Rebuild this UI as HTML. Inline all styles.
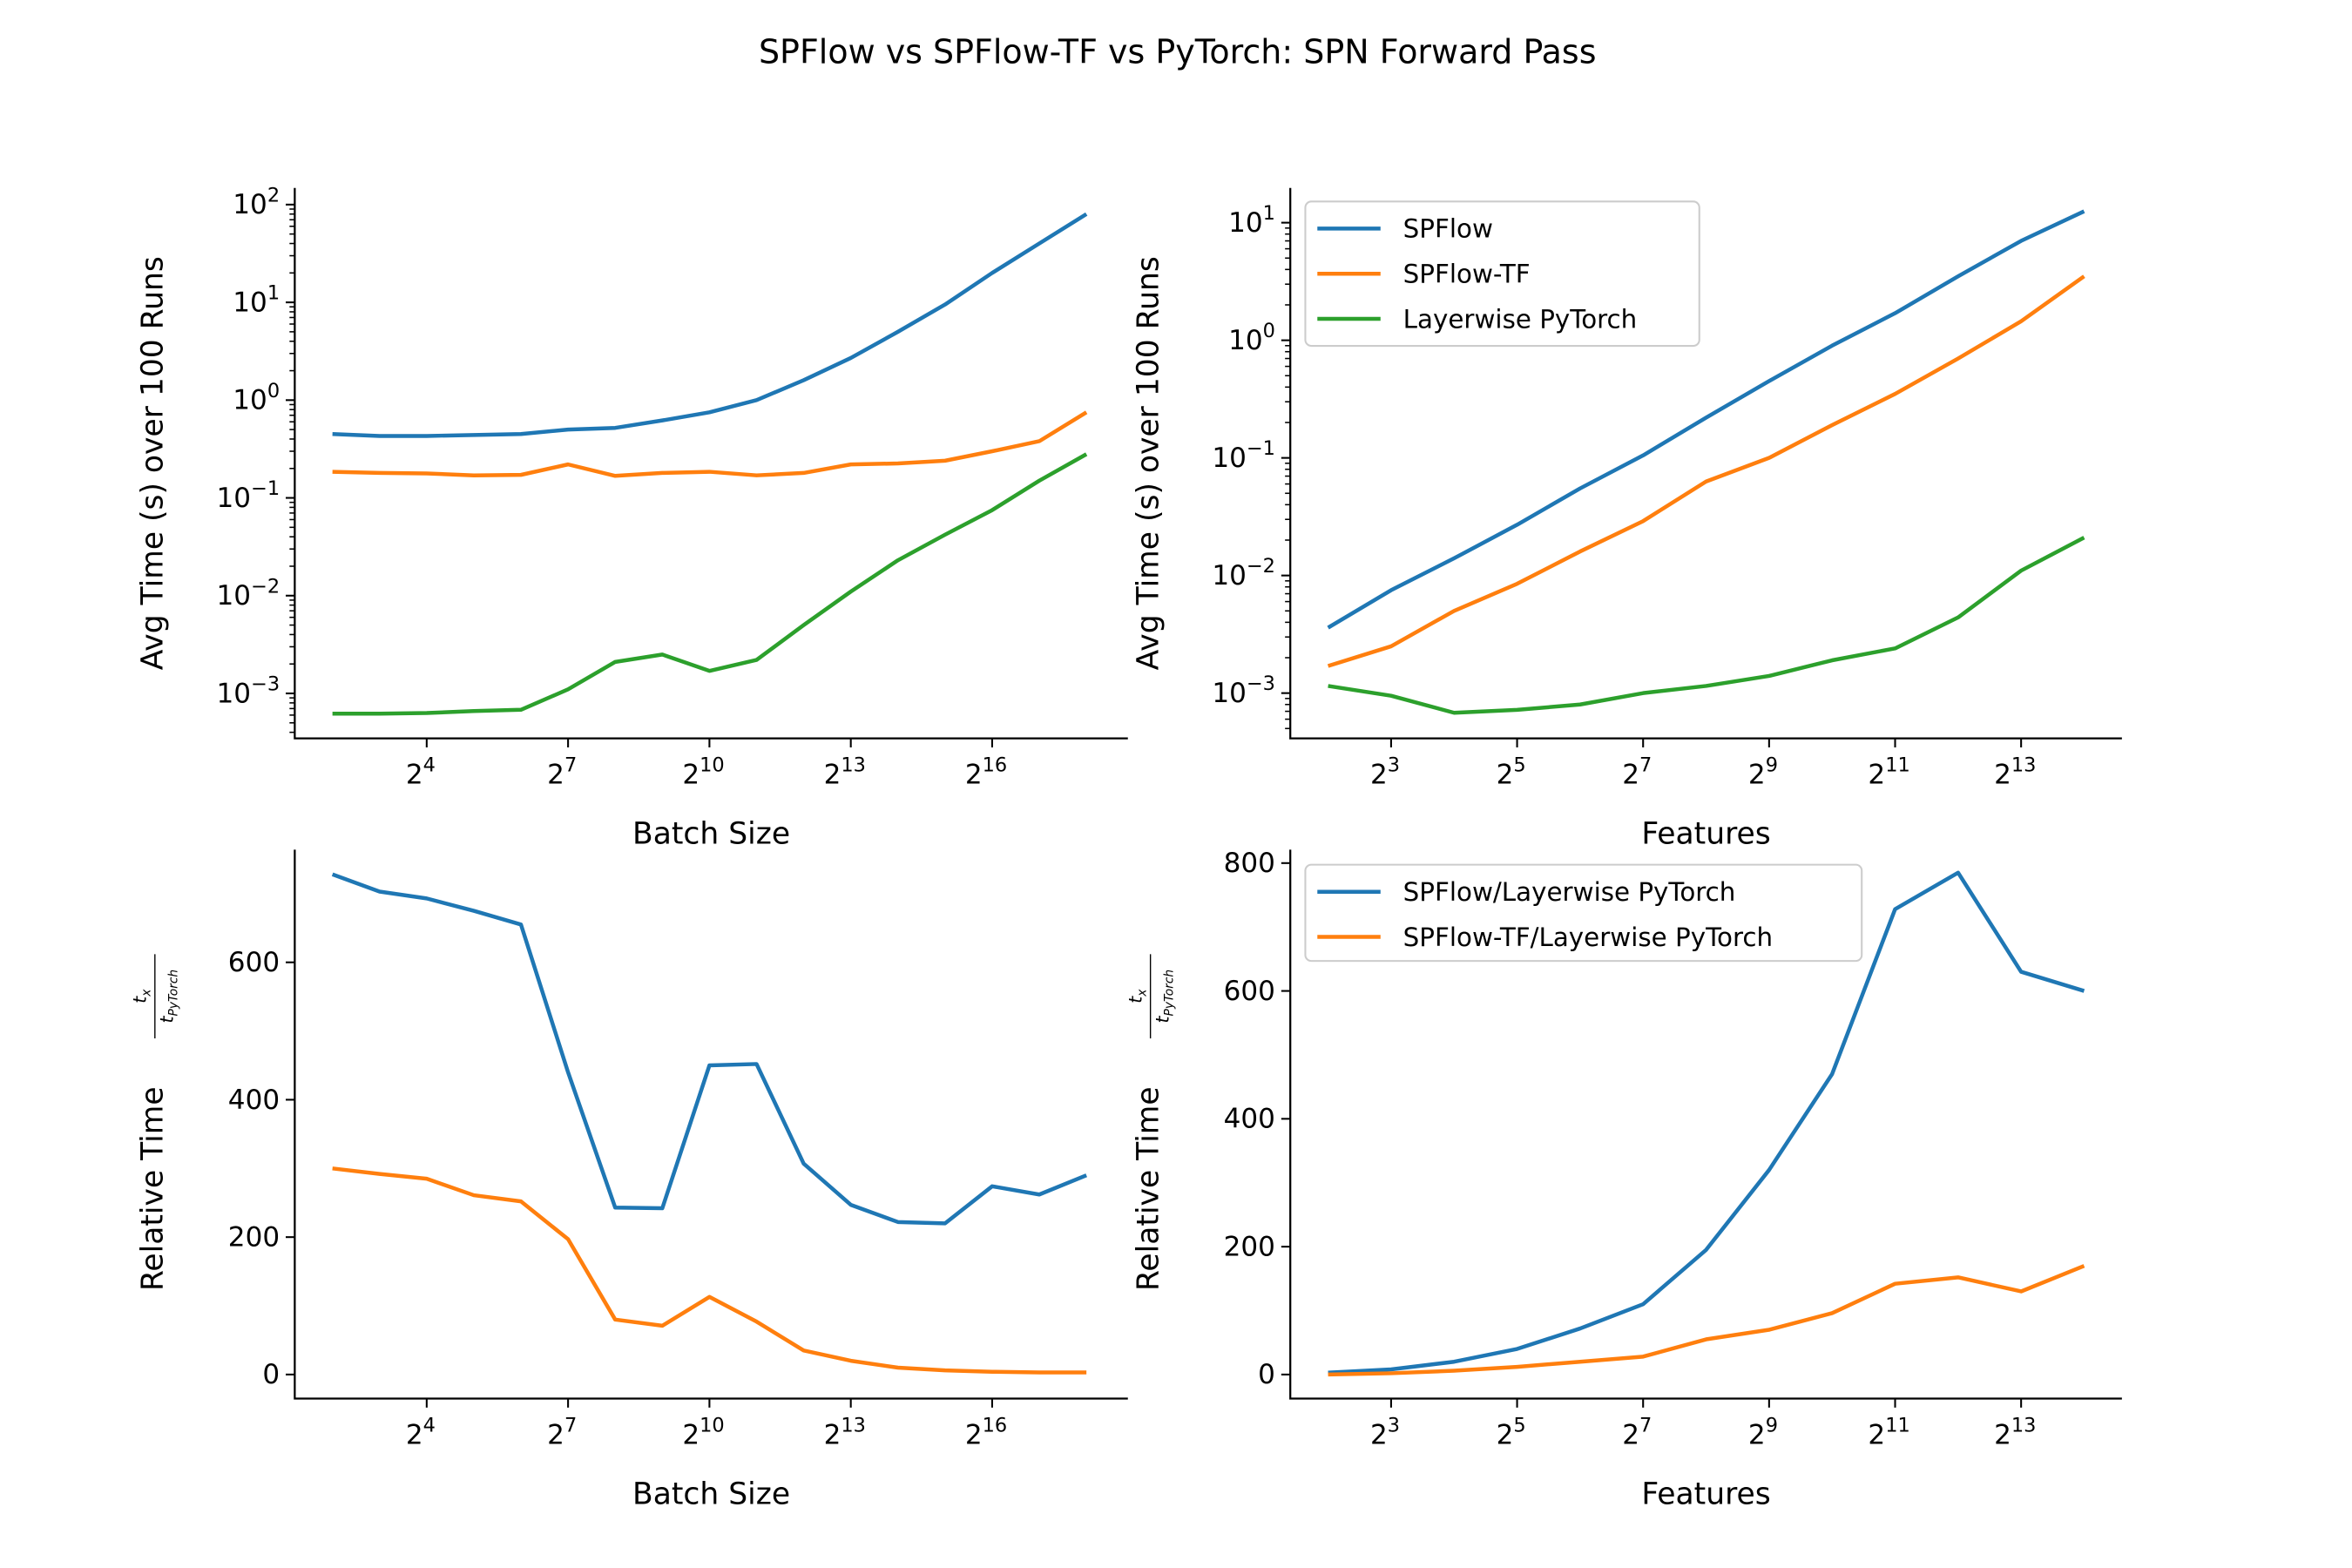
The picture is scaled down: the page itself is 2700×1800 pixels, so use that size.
<!DOCTYPE html>
<html><head><meta charset="utf-8"><style>
html,body{margin:0;padding:0;background:#fff}
svg{display:block;font-family:"DejaVu Sans","Liberation Sans",sans-serif}
</style></head><body>
<svg id="fig" width="2700" height="1800" viewBox="0 0 1564 1042.67" xmlns="http://www.w3.org/2000/svg">
<rect width="1564" height="1043" fill="#fff"/>
<text x="783" y="42" font-size="22" text-anchor="middle">SPFlow vs SPFlow-TF vs PyTorch: SPN Forward Pass</text>
</svg>
<script>
// ---- data ----
const batchExp = [2,3,4,5,6,7,8,9,10,11,12,13,14,15,16,17,18];
const batchSPFlow = [0.45,0.43,0.43,0.44,0.45,0.5,0.52,0.62,0.75,1.0,1.6,2.7,5,9.5,20,40,80];
const batchTF = [0.185,0.18,0.178,0.17,0.172,0.22,0.168,0.18,0.185,0.17,0.18,0.22,0.225,0.24,0.3,0.38,0.75];
const batchTorch = [0.00062,0.00062,0.00063,0.00066,0.00068,0.0011,0.0021,0.0025,0.0017,0.0022,0.005,0.011,0.023,0.042,0.075,0.15,0.28];
const featExp = [2,3,4,5,6,7,8,9,10,11,12,13,14];
const featSPFlow = [0.0036,0.0075,0.014,0.027,0.055,0.105,0.22,0.45,0.9,1.7,3.5,7,12.5];
const featTF = [0.0017,0.0025,0.005,0.0085,0.016,0.029,0.063,0.1,0.19,0.35,0.7,1.45,3.5];
const featTorch = [0.00115,0.00095,0.00068,0.00072,0.0008,0.001,0.00115,0.0014,0.0019,0.0024,0.0044,0.011,0.021];
const batchRelSPFlow = [728,703,693,675,655,440,243,242,450,452,307,247,222,220,274,262,290];
const batchRelTF = [300,292,285,261,252,197,80,71,113,77,35,20,10,6,4,3,3];
const featRelSPFlow = [3,8,20,40,72,110,195,320,470,728,785,630,600];
const featRelTF = [0,2,6,12,20,28,55,70,96,142,152,130,170];
const batchTicks = [4,7,10,13,16];
const featTicks = [3,5,7,9,11,13];
const relTicksL = [0,200,400,600];
const relTicksR = [0,200,400,600,800];
const logTicksL = [-3,-2,-1,0,1,2];
const logTicksR = [-3,-2,-1,0,1];

const C = {blue:'#1f77b4', orange:'#ff7f0e', green:'#2ca02c'};
const svg = document.getElementById('fig');
const NS = 'http://www.w3.org/2000/svg';
function mk(tag, attrs, parent){const e=document.createElementNS(NS,tag);for(const k in attrs)e.setAttribute(k,attrs[k]);(parent||svg).appendChild(e);return e;}

function panel(name, box, xr, yr, isLog, xticks, yticks, xlabel, series, legend, relLabel){
  const g = mk('g',{});
  
  
  const [x0,x1,y0,y1] = box;
  const sx = v => x0 + (v - xr[0])/(xr[1]-xr[0])*(x1-x0);
  const sy = v => { const t = isLog ? Math.log10(v) : v; return y1 - (t - yr[0])/(yr[1]-yr[0])*(y1-y0); };
  series.forEach(s=>{
    const p = mk('polyline',{points:s.x.map((xv,i)=>sx(xv).toFixed(2)+','+sy(s.y[i]).toFixed(2)).join(' '),fill:'none',stroke:s.c,'stroke-width':2.6,'stroke-linejoin':'round'},g);
    
    
  });
  const ax = mk('path',{d:`M${x0},${y0} L${x0},${y1} L${x1},${y1}`,fill:'none',stroke:'#000','stroke-width':1.3},g);
  
  
  xticks.forEach(t=>{
    const x=sx(t);
    mk('line',{x1:x,x2:x,y1:y1,y2:y1+6,stroke:'#000','stroke-width':1.2},g);
    const tx = mk('text',{x:x-4,y:y1+30,'font-size':18,'text-anchor':'middle'},g);
    
    
    tx.innerHTML = '2<tspan dy="-8" font-size="13">'+t+'</tspan>';
  });
  yticks.forEach(t=>{
    const y = isLog ? y1 - (t - yr[0])/(yr[1]-yr[0])*(y1-y0) : sy(t);
    mk('line',{x1:x0-6,x2:x0,y1:y,y2:y,stroke:'#000','stroke-width':1.2},g);
    const tx = mk('text',{x:x0-10,y:y+6,'font-size':18,'text-anchor':'end'},g);
    
    
    if(isLog){ tx.innerHTML = '10<tspan dy="-8" font-size="13">'+(t<0?'\u2212'+(-t):t)+'</tspan>'; }
    else tx.textContent = t;
  });
  if(isLog){
    for(let d=Math.floor(yr[0]); d<=Math.ceil(yr[1]); d++){
      for(let m=2;m<=9;m++){
        const lv = d + Math.log10(m);
        if(lv<yr[0]||lv>yr[1]) continue;
        const y = y1 - (lv - yr[0])/(yr[1]-yr[0])*(y1-y0);
        mk('line',{x1:x0-3.5,x2:x0,y1:y,y2:y,stroke:'#000','stroke-width':0.9},g);
      }
    }
  }
  const xl = mk('text',{x:(x0+x1)/2,y:y1+70,'font-size':20,'text-anchor':'middle'},g);
  
  
  xl.textContent = xlabel;
  const cy = (y0+y1)/2, lx = x0 - 88;
  if(relLabel){
    const ly = cy + 43;
    const yl = mk('text',{x:lx,y:ly,'font-size':20,'text-anchor':'middle',transform:`rotate(-90 ${lx} ${ly})`},g);
    
    
    yl.textContent = 'Relative Time';
    const fx = lx + 2, fy = cy - 85;
    const fg = mk('g',{transform:`rotate(-90 ${fx} ${fy})`},g);
    
    
    mk('text',{x:fx,y:fy-13,'font-size':12,'font-style':'italic','text-anchor':'middle'},fg).innerHTML='t<tspan dy="3" font-size="8">x</tspan>';
    mk('line',{x1:fx-28,x2:fx+28,y1:fy-7,y2:fy-7,stroke:'#000','stroke-width':0.8},fg);
    mk('text',{x:fx,y:fy+5,'font-size':12,'font-style':'italic','text-anchor':'middle'},fg).innerHTML='t<tspan dy="3" font-size="8">PyTorch</tspan>';
  } else {
    const yl = mk('text',{x:lx,y:cy,'font-size':20,'text-anchor':'middle',transform:`rotate(-90 ${lx} ${cy})`},g);
    
    
    yl.textContent = 'Avg Time (s) over 100 Runs';
  }
  if(legend){
    const lg = mk('g',{},g);
    
    
    mk('rect',{x:legend.x,y:legend.y,width:legend.w,height:legend.h,rx:4,fill:'#fff','fill-opacity':0.8,stroke:'#ccc','stroke-width':1.2},lg);
    series.forEach((s,i)=>{
      const y = legend.y + 18 + i*30;
      const e = mk('g',{},lg);
      
      
      mk('line',{x1:legend.x+8,x2:legend.x+50,y1:y,y2:y,stroke:s.c,'stroke-width':2.6},e);
      const t = mk('text',{x:legend.x+65,y:y+6,'font-size':17},e);
      t.textContent = s.label;
    });
  }
}

panel('panel-batch-time',[196,750,125,491],[1.2,18.88],[-3.46,2.17],true,batchTicks,logTicksL,'Batch Size',[
  {name:'line-spflow',x:batchExp,y:batchSPFlow,c:C.blue,label:'SPFlow'},
  {name:'line-spflow-tf',x:batchExp,y:batchTF,c:C.orange,label:'SPFlow-TF'},
  {name:'line-pytorch',x:batchExp,y:batchTorch,c:C.green,label:'Layerwise PyTorch'}],null,false);
panel('panel-features-time',[858,1411,125,491],[1.4,14.6],[-3.385,1.295],true,featTicks,logTicksR,'Features',[
  {name:'line-spflow',x:featExp,y:featSPFlow,c:C.blue,label:'SPFlow'},
  {name:'line-spflow-tf',x:featExp,y:featTF,c:C.orange,label:'SPFlow-TF'},
  {name:'line-pytorch',x:featExp,y:featTorch,c:C.green,label:'Layerwise PyTorch'}],{x:868,y:134,w:262,h:96},false);
panel('panel-batch-relative',[196,750,565,930],[1.2,18.88],[-35,764],false,batchTicks,relTicksL,'Batch Size',[
  {name:'line-spflow-rel',x:batchExp,y:batchRelSPFlow,c:C.blue,label:'SPFlow/Layerwise PyTorch'},
  {name:'line-spflow-tf-rel',x:batchExp,y:batchRelTF,c:C.orange,label:'SPFlow-TF/Layerwise PyTorch'}],null,true);
panel('panel-features-relative',[858,1411,565,930],[1.4,14.6],[-37.6,821],false,featTicks,relTicksR,'Features',[
  {name:'line-spflow-rel',x:featExp,y:featRelSPFlow,c:C.blue,label:'SPFlow/Layerwise PyTorch'},
  {name:'line-spflow-tf-rel',x:featExp,y:featRelTF,c:C.orange,label:'SPFlow-TF/Layerwise PyTorch'}],{x:868,y:575,w:370,h:64},true);
</script>
</body></html>
